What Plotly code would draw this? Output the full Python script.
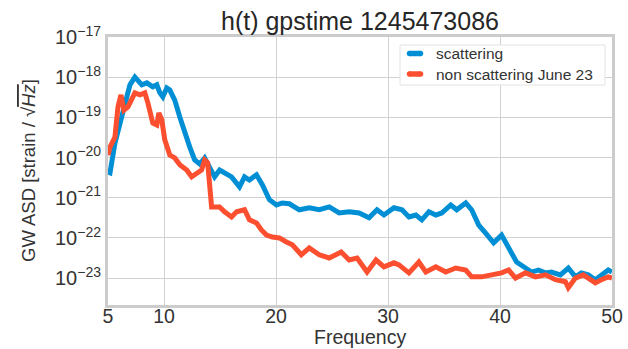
import plotly.graph_objects as go

# Frequency grid (Hz) and log10 of the amplitude spectral density for each series
freq_scattering = [5.0, 5.18, 5.62, 6.07, 6.51, 6.96, 7.40, 7.67, 8.02, 8.47, 8.74, 9.00, 9.36, 9.63,
                   9.89, 10.25, 10.52, 10.96, 11.41, 11.85, 12.30, 12.74, 13.19, 13.63, 14.07, 14.52,
                   14.97, 15.41, 16.03, 16.74, 17.19, 17.63, 18.26, 18.79, 19.41, 20.04, 20.57, 21.19,
                   22.08, 22.97, 23.86, 24.75, 25.64, 26.53, 27.42, 28.31, 29.02, 29.64, 30.53, 31.25,
                   31.87, 32.49, 33.02, 33.65, 34.27, 34.80, 35.60, 36.14, 36.94, 37.47, 38.10, 38.72,
                   39.43, 40.14, 40.77, 41.48, 42.28, 42.81, 43.43, 44.06, 44.59, 45.39, 46.10, 46.73,
                   47.26, 47.88, 48.51, 49.04, 49.67, 50.0]
log_asd_scattering = [-20.36, -20.38, -19.64, -19.14, -18.64, -18.19, -18.00, -18.07, -18.19, -18.14,
                      -18.19, -18.24, -18.19, -18.39, -18.49, -18.27, -18.32, -18.57, -18.99, -19.39,
                      -19.74, -20.06, -20.16, -20.01, -20.23, -20.48, -20.31, -20.38, -20.48, -20.73,
                      -20.48, -20.56, -20.43, -20.68, -21.05, -21.18, -21.13, -21.15, -21.30, -21.25,
                      -21.30, -21.23, -21.38, -21.35, -21.38, -21.50, -21.30, -21.43, -21.25, -21.30,
                      -21.48, -21.43, -21.55, -21.35, -21.43, -21.38, -21.18, -21.30, -21.13, -21.30,
                      -21.68, -21.88, -22.12, -21.93, -22.22, -22.60, -22.75, -22.85, -22.80, -22.87,
                      -22.85, -22.92, -22.75, -22.97, -22.87, -22.92, -23.04, -22.92, -22.80, -22.85]

freq_quiet = [5.0, 5.18, 5.62, 5.89, 6.16, 6.42, 6.78, 7.40, 7.85, 8.29, 8.56, 9.00, 9.36, 9.54, 9.80,
              10.07, 10.52, 10.96, 11.41, 12.03, 12.47, 12.92, 13.36, 13.63, 13.90, 14.25, 14.70,
              14.96, 15.41, 16.03, 16.48, 17.19, 17.63, 18.26, 18.70, 19.15, 19.68, 20.30, 20.93,
              21.46, 22.26, 22.97, 23.86, 24.75, 25.82, 26.53, 27.24, 28.13, 28.93, 29.64, 30.53,
              30.98, 31.87, 32.76, 33.38, 34.27, 35.16, 36.05, 36.94, 37.47, 38.36, 39.25, 40.14,
              40.77, 41.39, 42.28, 43.17, 44.06, 44.95, 45.84, 46.10, 46.73, 47.44, 47.88, 48.51,
              49.04, 49.67, 50.0]
log_asd_quiet = [-19.94, -19.74, -19.49, -18.74, -18.44, -18.82, -18.74, -18.39, -18.44, -18.39,
                 -18.64, -19.14, -19.19, -18.89, -19.06, -19.56, -19.94, -20.01, -20.18, -20.31,
                 -20.48, -20.38, -20.31, -20.06, -20.13, -21.23, -21.25, -21.23, -21.35, -21.48,
                 -21.35, -21.30, -21.55, -21.63, -21.80, -21.93, -21.98, -22.00, -22.10, -22.17,
                 -22.42, -22.25, -22.42, -22.50, -22.35, -22.55, -22.50, -22.85, -22.55, -22.72,
                 -22.62, -22.67, -22.87, -22.60, -22.85, -22.72, -22.85, -22.75, -22.80, -22.97,
                 -22.97, -22.92, -22.87, -22.80, -23.00, -22.87, -22.97, -22.92, -23.04, -23.09,
                 -23.24, -23.00, -22.92, -23.00, -23.12, -23.04, -22.97, -23.00]

series_names = ["scattering", "non scattering June 23"]
x_ticks = [5, 10, 20, 30, 40, 50]
y_exponents = [-23, -22, -21, -20, -19, -18, -17]

asd_scattering = [10 ** v for v in log_asd_scattering]
asd_quiet = [10 ** v for v in log_asd_quiet]

BLUE = "#008fd5"
RED = "#fc4f30"
TEXT = "#333333"
FONT = "Liberation Sans, Arial, sans-serif"

W, H = 628, 349
ML, MR, MT, MB = 108, 16, 37, 44
PW, PH = W - ML - MR, H - MT - MB


def px(x):
    """Horizontal page pixel -> paper fraction."""
    return (x - ML) / PW


def py(y):
    """Vertical page pixel -> paper fraction."""
    return 1 - (y - MT) / PH


fig = go.Figure()
fig.add_trace(go.Scatter(x=freq_scattering, y=asd_scattering, mode="lines", name=series_names[0],
                         line=dict(color=BLUE, width=5)))
fig.add_trace(go.Scatter(x=freq_quiet, y=asd_quiet, mode="lines", name=series_names[1],
                         line=dict(color=RED, width=5)))

fig.update_layout(
    width=W, height=H,
    margin=dict(l=ML, r=MR, t=MT, b=MB, autoexpand=False),
    paper_bgcolor="white", plot_bgcolor="white",
    font=dict(family=FONT, color=TEXT),
    title=dict(text="h(t) gpstime 1245473086", x=0.5, xref="paper", xanchor="center",
               y=1 - 21 / H, yref="container", yanchor="middle",
               font=dict(size=25, color="#262626")),
    showlegend=False,
)

fig.update_xaxes(
    range=[5, 50], tickvals=x_ticks, ticktext=[str(t) for t in x_ticks],
    showgrid=True, gridcolor="#d2d2d2", gridwidth=1,
    showline=True, linecolor="#cccccc", linewidth=3, mirror=True,
    ticks="", zeroline=False, automargin=False, ticklabelstandoff=-8,
    tickfont=dict(size=19.5, color=TEXT),
)

fig.update_yaxes(
    type="log", range=[-23.67, -17.0],
    tickvals=[10 ** e for e in y_exponents],
    ticktext=["10<sup>\u2212%d</sup>" % (-e) for e in y_exponents],
    showgrid=True, gridcolor="#d2d2d2", gridwidth=1,
    showline=True, linecolor="#cccccc", linewidth=3, mirror=True,
    ticks="", zeroline=False, automargin=False,
    tickfont=dict(size=20, color=TEXT),
)

# axis titles
fig.add_annotation(
    text="Frequency", xref="paper", yref="paper", x=0.5, y=py(337),
    xanchor="center", yanchor="middle", showarrow=False,
    font=dict(size=19.5, color=TEXT),
)
fig.add_annotation(
    text="GW ASD [strain / \u221a<span style='text-decoration:overline'><i>Hz</i></span>]",
    xref="paper", yref="paper", x=px(28), y=0.5, xanchor="center", yanchor="middle",
    textangle=-90, showarrow=False, font=dict(size=18.5, color=TEXT),
)

# legend box with rounded swatches
fig.add_shape(type="rect", xref="paper", yref="paper",
              x0=px(400), x1=px(605), y0=py(45), y1=py(85),
              fillcolor="white", line=dict(color="#e2e2e2", width=1), layer="above")
for row_y, colour, label in [(53.5, BLUE, series_names[0]), (74, RED, series_names[1])]:
    fig.add_shape(type="line", xref="paper", yref="paper",
                  x0=px(409.5), x1=px(420.5), y0=py(row_y), y1=py(row_y),
                  line=dict(color=colour, width=5.5), layer="above")
    for cx in (409.5, 420.5):
        fig.add_shape(type="circle", xref="paper", yref="paper",
                      x0=px(cx - 2.75), x1=px(cx + 2.75), y0=py(row_y + 2.75), y1=py(row_y - 2.75),
                      fillcolor=colour, line=dict(width=0), layer="above")
    fig.add_annotation(text=label, xref="paper", yref="paper", x=px(434), y=py(row_y),
                       xanchor="left", yanchor="middle", showarrow=False,
                       font=dict(size=15.5, color=TEXT))

fig.write_html("out.html")
